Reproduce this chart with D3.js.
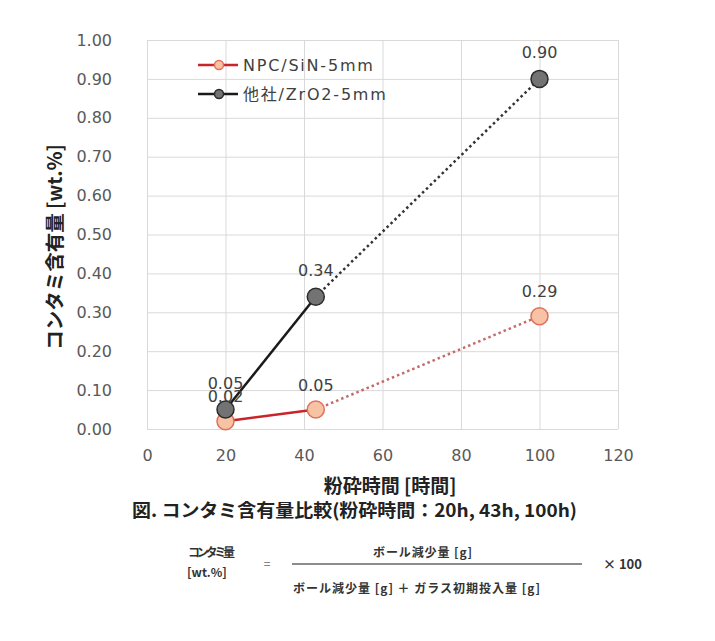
<!DOCTYPE html>
<html>
<head>
<meta charset="utf-8">
<script src="https://cdn.jsdelivr.net/npm/d3@7"></script>
<style>
  body { margin: 0; background: #fff; }
  svg { display: block; }
</style>
</head>
<body>
<div id="chart"></div>
<script>
const w = 715;
const h = 641;

// data
const hours = [20, 43, 100];
const npcValues = [0.02, 0.05, 0.29];
const otherValues = [0.05, 0.34, 0.90];
const seriesNames = ["NPC/SiN-5mm", "他社/ZrO2-5mm"];
const xTicks = [0, 20, 40, 60, 80, 100, 120];
const yTicks = [0, 0.1, 0.2, 0.3, 0.4, 0.5, 0.6, 0.7, 0.8, 0.9, 1.0];

const series = [
  { name: seriesNames[0], values: npcValues, line: "#c8252a", dots: "#c46a6a", fill: "#f7c3a4", stroke: "#e0705c", dy: -19 },
  { name: seriesNames[1], values: otherValues, line: "#1a1a1a", dots: "#333", fill: "#737373", stroke: "#2b2b2b", dy: -21 }
];

const plotL = 147, plotR = 618, plotT = 40, plotB = 429;

const svg = d3.select("#chart").append("svg").attr("width", w).attr("height", h);

const x = d3.scaleLinear().domain([0, 120]).range([plotL, plotR]);
const y = d3.scaleLinear().domain([0, 1]).range([plotB, plotT]);

// grid
svg.append("g")
  .attr("transform", "translate(0," + plotB + ")")
  .call(d3.axisBottom(x).tickValues(xTicks).tickSize(-(plotB - plotT)).tickFormat(""))
  .call((g) => g.select(".domain").remove())
  .selectAll("line").attr("stroke", "#d9d9d9");

svg.append("g")
  .attr("transform", "translate(" + plotL + ",0)")
  .call(d3.axisLeft(y).tickValues(yTicks).tickSize(-(plotR - plotL)).tickFormat(""))
  .call((g) => g.select(".domain").remove())
  .selectAll("line").attr("stroke", "#d9d9d9");

// axis labels
const xAxis = svg.append("g")
  .attr("transform", "translate(0," + plotB + ")")
  .call(d3.axisBottom(x).tickValues(xTicks).tickSize(0).tickPadding(21));
xAxis.select(".domain").remove();
xAxis.selectAll("text")
  .attr("font-family", "DejaVu Sans")
  .attr("font-size", 16)
  .attr("fill", "#595959");

const yAxis = svg.append("g")
  .attr("transform", "translate(" + plotL + ",0)")
  .call(d3.axisLeft(y).tickValues(yTicks).tickSize(0).tickPadding(35).tickFormat(d3.format(".2f")));
yAxis.select(".domain").remove();
yAxis.selectAll("text")
  .attr("font-family", "DejaVu Sans")
  .attr("font-size", 16)
  .attr("fill", "#595959");

// lines: solid up to 43h, dotted after
const line = d3.line().x((d) => x(d[0])).y((d) => y(d[1]));

series.forEach((s) => {
  const pts = hours.map((hr, i) => [hr, s.values[i]]);
  svg.append("path")
    .attr("d", line(pts.slice(0, 2)))
    .attr("fill", "none")
    .attr("stroke", s.line)
    .attr("stroke-width", 2.5);
  svg.append("path")
    .attr("d", line(pts.slice(1)))
    .attr("fill", "none")
    .attr("stroke", s.dots)
    .attr("stroke-width", 2.5)
    .attr("stroke-dasharray", "2.5,3");
});

series.forEach((s) => {
  svg.append("g")
    .selectAll("circle")
    .data(hours)
    .enter()
    .append("circle")
    .attr("cx", (d) => x(d))
    .attr("cy", (d, i) => y(s.values[i]))
    .attr("r", 8.5)
    .attr("fill", s.fill)
    .attr("stroke", s.stroke)
    .attr("stroke-width", 1.5);
});

series.forEach((s) => {
  svg.append("g")
    .selectAll("text")
    .data(hours)
    .enter()
    .append("text")
    .attr("x", (d) => x(d))
    .attr("y", (d, i) => y(s.values[i]) + s.dy)
    .attr("text-anchor", "middle")
    .attr("font-family", "DejaVu Sans")
    .attr("font-size", 16)
    .attr("fill", "#404040")
    .text((d, i) => d3.format(".2f")(s.values[i]));
});

// legend
const legend = svg.append("g")
  .selectAll("g")
  .data(series)
  .enter()
  .append("g")
  .attr("transform", (d, i) => "translate(198," + (65 + i * 29) + ")");
legend.append("line")
  .attr("x1", 0).attr("x2", 40)
  .attr("stroke", (d) => d.line)
  .attr("stroke-width", 2.5);
legend.append("circle")
  .attr("cx", 21).attr("r", 4.5)
  .attr("fill", (d) => d.fill)
  .attr("stroke", (d) => d.stroke)
  .attr("stroke-width", 1.5);
legend.append("text")
  .attr("x", 45)
  .attr("dy", "0.36em")
  .attr("font-family", "DejaVu Sans, Noto Sans CJK JP")
  .attr("font-size", 16)
  .attr("letter-spacing", 1.8)
  .attr("fill", "#404040")
  .text((d) => d.name);

// axis titles
svg.append("text")
  .attr("transform", "translate(55,247) rotate(-90)")
  .attr("text-anchor", "middle")
  .attr("dy", "0.35em")
  .attr("font-family", "Noto Sans CJK JP")
  .attr("font-weight", "bold")
  .attr("font-size", 19.5)
  .attr("fill", "#222")
  .text("コンタミ含有量 [wt.%]");

svg.append("text")
  .attr("x", 390)
  .attr("y", 486)
  .attr("dy", "0.35em")
  .attr("text-anchor", "middle")
  .attr("font-family", "Noto Sans CJK JP")
  .attr("font-weight", "bold")
  .attr("font-size", 19)
  .attr("fill", "#222")
  .text("粉砕時間 [時間]");

svg.append("text")
  .attr("x", 132)
  .attr("y", 511)
  .attr("dy", "0.35em")
  .attr("font-family", "Noto Sans CJK JP")
  .attr("font-weight", "bold")
  .attr("font-size", 18)
  .attr("textLength", 445)
  .attr("lengthAdjust", "spacingAndGlyphs")
  .attr("fill", "#222")
  .text("図. コンタミ含有量比較(粉砕時間：20h, 43h, 100h)");

// formula
const f = svg.append("g")
  .attr("font-family", "Noto Sans CJK JP")
  .attr("font-weight", "bold")
  .attr("font-size", 12)
  .attr("fill", "#333");
f.append("text").attr("x", 188).attr("y", 553).attr("dy", "0.35em").attr("textLength", 47).text("コンタミ量");
f.append("text").attr("x", 187).attr("y", 573).attr("dy", "0.35em").text("[wt.%]");
f.append("text").attr("x", 267).attr("y", 564).attr("dy", "0.35em").attr("text-anchor", "middle").attr("font-weight", "normal").attr("fill", "#666").text("=");
f.append("text").attr("x", 373).attr("y", 553).attr("dy", "0.35em").attr("textLength", 99).text("ボール減少量 [g]");
f.append("line").attr("x1", 292).attr("x2", 582).attr("y1", 564).attr("y2", 564).attr("stroke", "#666").attr("stroke-width", 1.5);
f.append("text").attr("x", 293).attr("y", 589).attr("dy", "0.35em").attr("textLength", 247).text("ボール減少量 [g] ＋ ガラス初期投入量 [g]");
f.append("text").attr("x", 603).attr("y", 564).attr("dy", "0.35em").attr("font-size", 13).text("×  100");
</script>
</body>
</html>
